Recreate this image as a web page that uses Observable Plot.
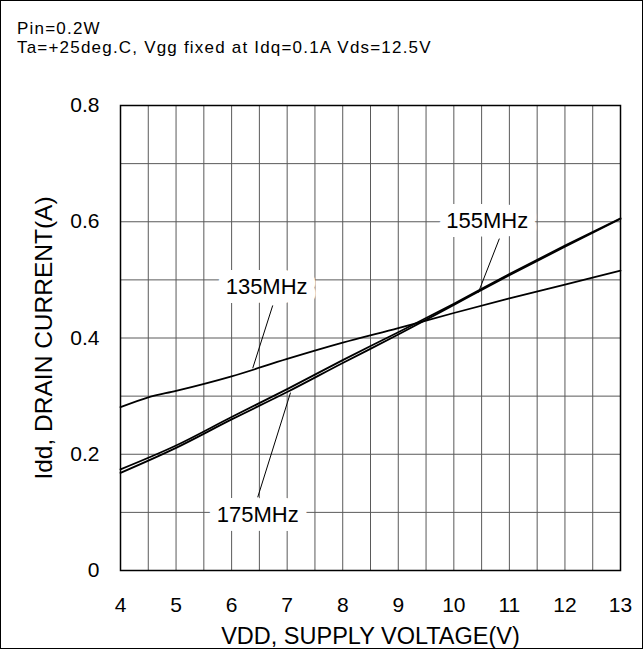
<!DOCTYPE html>
<html>
<head>
<meta charset="utf-8">
<script src="https://cdn.jsdelivr.net/npm/d3@7"></script>
<script src="https://cdn.jsdelivr.net/npm/@observablehq/plot@0.6"></script>
<style>
  body { margin: 0; background: #fff; }
  #wrap { position: relative; width: 643px; height: 649px; overflow: hidden; background: #fff;
          font-family: "Liberation Sans", Arial, sans-serif; }
  .t { position: absolute; left: 17px; font-size: 17px; line-height: 17px; letter-spacing: 1.2px;
       white-space: nowrap; color: #000; }
  #border { position: absolute; left: 0; top: 0; width: 641px; height: 647px; border: 1px solid #000;
            pointer-events: none; }
</style>
</head>
<body>
<div id="wrap">
  <div id="chart"></div>
  <div class="t" id="t1" style="top:20px"></div>
  <div class="t" id="t2" style="top:39px"></div>
  <div id="border"></div>
</div>
<script>
// ---- text ----
const titleLine1 = "Pin=0.2W";
const titleLine2 = "Ta=+25deg.C, Vgg fixed at Idq=0.1A Vds=12.5V";
const xLabel = "VDD, SUPPLY VOLTAGE(V)";
const yLabel = "Idd, DRAIN CURRENT(A)";

// ---- ticks & grid ----
const xTicks = [4, 5, 6, 7, 8, 9, 10, 11, 12, 13];
const yTicks = [0, 0.2, 0.4, 0.6, 0.8];
const xGrid = [4.5, 5, 5.5, 6, 6.5, 7, 7.5, 8, 8.5, 9, 9.5, 10, 10.5, 11, 11.5, 12, 12.5];
const yGrid = [0.1, 0.2, 0.3, 0.4, 0.5, 0.6, 0.7];

// ---- series ----
const volts135 = [4, 4.5, 5, 6, 7, 8, 9, 10, 11, 12, 13];
const curr135  = [0.281, 0.298, 0.309, 0.334, 0.364, 0.392, 0.417, 0.443, 0.468, 0.492, 0.516];
const volts    = [4, 5, 6, 7, 8, 9, 10, 11, 12, 13];
const curr155  = [0.174, 0.215, 0.264, 0.312, 0.362, 0.410, 0.459, 0.510, 0.559, 0.606];
const curr175  = [0.168, 0.211, 0.260, 0.307, 0.357, 0.406, 0.457, 0.508, 0.557, 0.605];

// ---- annotations ----
const annLabels = ["135MHz", "155MHz", "175MHz"];
const annX      = [6.63, 10.60, 6.47];
const annY      = [0.487, 0.602, 0.096];
const leadX1    = [6.74, 10.82, 6.47];
const leadY1    = [0.456, 0.571, 0.126];
const leadX2    = [6.38, 10.44, 7.06];
const leadY2    = [0.348, 0.478, 0.306];

document.getElementById("t1").textContent = titleLine1;
document.getElementById("t2").textContent = titleLine2;

const series = [
  ...volts135.map((v, i) => ({ s: "135MHz", v, c: curr135[i] })),
  ...volts.map((v, i) => ({ s: "155MHz", v, c: curr155[i] })),
  ...volts.map((v, i) => ({ s: "175MHz", v, c: curr175[i] }))
];
const ann = annLabels.map((t, i) => ({
  t, x: annX[i], y: annY[i], x1: leadX1[i], y1: leadY1[i], x2: leadX2[i], y2: leadY2[i]
}));

const font = "\"Liberation Sans\", Arial, sans-serif";

const chart = Plot.plot({
  width: 643,
  height: 649,
  marginLeft: 120,
  marginRight: 23,
  marginTop: 105,
  marginBottom: 79,
  style: { fontFamily: font, background: "white", color: "black", overflow: "visible" },
  x: { type: "linear", domain: [4, 13] },
  y: { type: "linear", domain: [0, 0.8] },
  marks: [
    Plot.ruleX(xGrid, { stroke: "#5a5a5a", strokeWidth: 1 }),
    Plot.ruleY(yGrid, { stroke: "#5a5a5a", strokeWidth: 1 }),
    Plot.line(series, { x: "v", y: "c", z: "s", stroke: "black", strokeWidth: 1.8, curve: "monotone-x" }),
    Plot.link(ann, { x1: "x1", y1: "y1", x2: "x2", y2: "y2", stroke: "black", strokeWidth: 1 }),
    Plot.text(ann, { x: "x", y: "y", text: "t", fontSize: 22, fill: "black", stroke: "white",
                     strokeWidth: 18, textAnchor: "middle", lineAnchor: "middle" }),
    Plot.frame({ stroke: "black", strokeWidth: 1.5 }),
    Plot.axisX(xTicks, { tickSize: 0, tickPadding: 27, fontSize: 21, label: null, tickFormat: d => String(d) }),
    Plot.axisY(yTicks, { tickSize: 0, tickPadding: 21, fontSize: 21, label: null, tickFormat: d => String(d) }),
    Plot.text([xLabel], { frameAnchor: "bottom", dy: 66, text: d => d, fontSize: 23.5,
                          textAnchor: "middle", lineAnchor: "middle", fill: "black" }),
    Plot.text([yLabel], { frameAnchor: "left", dx: -76, rotate: -90, text: d => d, fontSize: 24.5,
                          textAnchor: "middle", lineAnchor: "middle", fill: "black" })
  ]
});
document.getElementById("chart").appendChild(chart);
</script>
</body>
</html>
